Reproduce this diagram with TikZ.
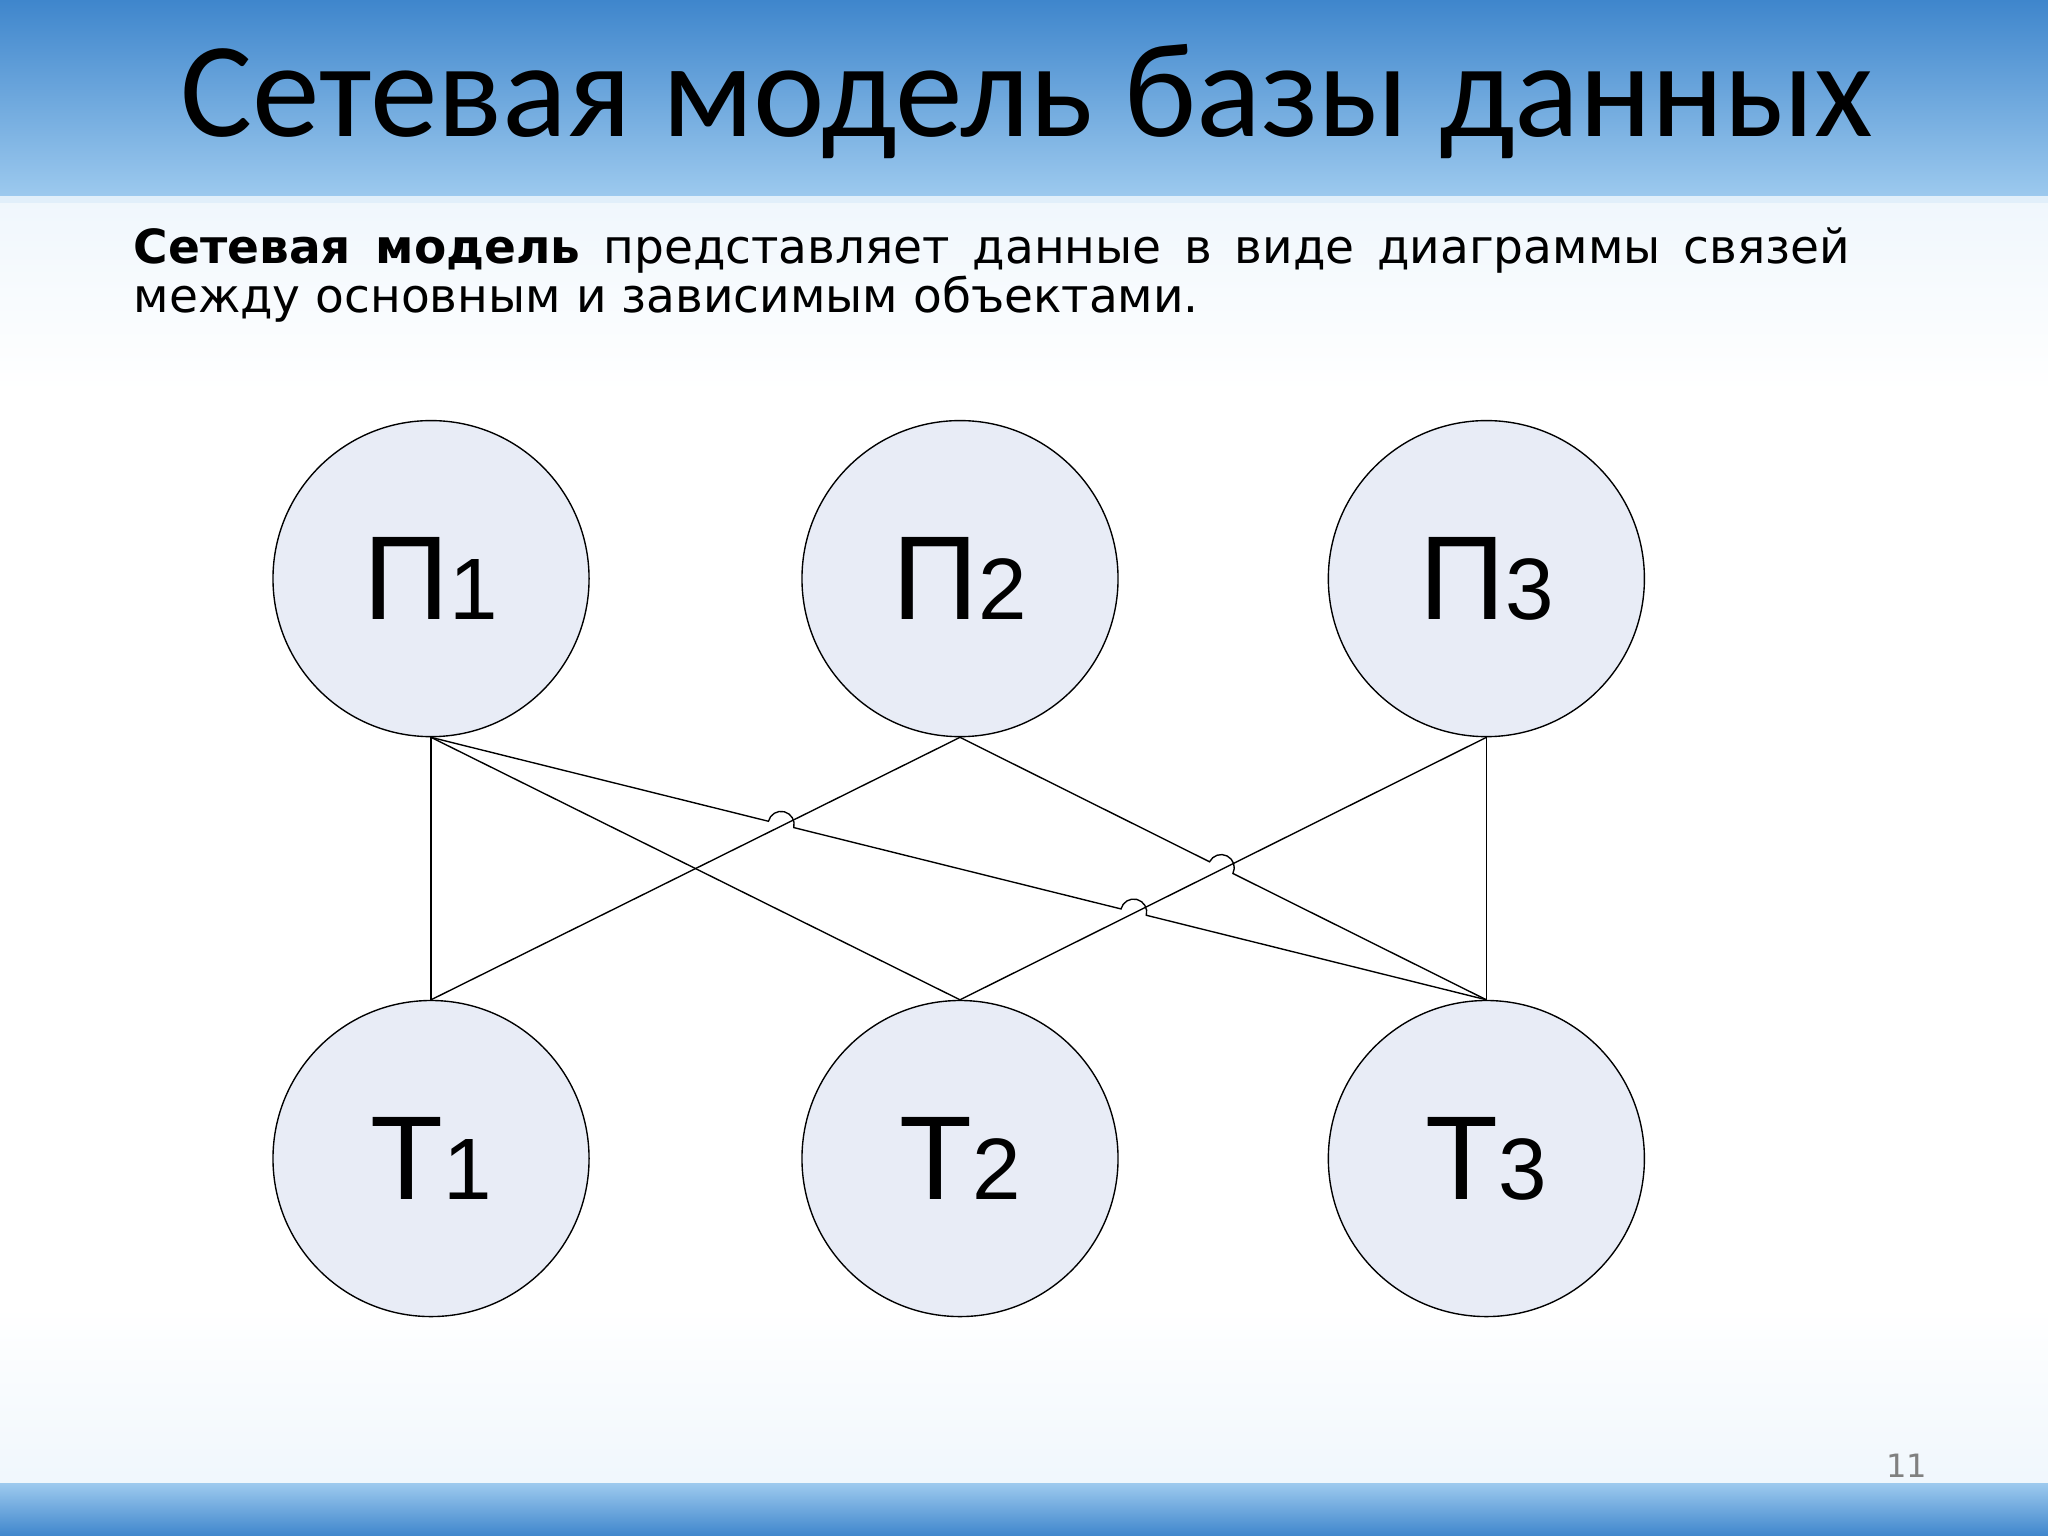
\documentclass[tikz,border=0pt]{standalone}
\usepackage{fontspec}
\setmainfont{DejaVu Sans}
\newfontfamily\titlefont{Carlito}
\newfontfamily\arialf{Liberation Sans}
\usetikzlibrary{calc}
\definecolor{bandblue}{HTML}{3F86CC}
\definecolor{lightblue}{HTML}{9CC9EE}
\definecolor{circfill}{HTML}{E8ECF6}
\tikzset{ent/.style={circle,draw=black,line width=0.6pt,fill=circfill,minimum size=242*0.02cm,inner sep=0pt,font=\arialf},
 lnk/.style={line width=0.6pt}}
\newcommand{\lbl}[2]{{\fontsize{52}{52}\selectfont #1}{\fontsize{38}{38}\selectfont #2}}
\begin{document}
\begin{tikzpicture}[x=0.02cm,y=0.02cm]
\useasboundingbox (0,0) rectangle (1568,-1176);
\shade[top color=bandblue,bottom color=lightblue] (0,0) rectangle (1568,-150);
\fill[white!70!lightblue] (0,-150) rectangle (1568,-156);
\shade[top color=white!85!lightblue,bottom color=white] (0,-156) rectangle (1568,-300);
\fill[white] (0,-300) rectangle (1568,-1000);
\shade[top color=white,bottom color=white!85!lightblue] (0,-1000) rectangle (1568,-1136);
\shade[top color=lightblue,bottom color=bandblue] (0,-1136) rectangle (1568,-1176);
\node[font=\titlefont\fontsize{59}{59}\selectfont] (title) at (786,-78) {Сетевая модель базы данных};
\node[anchor=north west,text width=1314*0.02cm,align=justify,inner sep=0pt,font=\fontsize{20.5}{21.5}\selectfont] (body) at (102,-174)
 {\textbf{Сетевая модель} представляет данные в виде диаграммы связей между основным и зависимым объектами.};
\node[font=\fontsize{14}{14}\selectfont,text=gray] (num) at (1460,-1122) {11};
\node[ent] (P1) at (330,-443) {\lbl{П}{1}};
\node[ent] (P2) at (735,-443) {\lbl{П}{2}};
\node[ent] (P3) at (1138,-443) {\lbl{П}{3}};
\node[ent] (T1) at (330,-887) {\lbl{Т}{1}};
\node[ent] (T2) at (735,-887) {\lbl{Т}{2}};
\node[ent] (T3) at (1138,-887) {\lbl{Т}{3}};
\draw[lnk] (P1.south) -- (T1.north);
\draw[lnk] (P1.south) -- (T2.north);
\draw[lnk] (P2.south) -- (T1.north);
\draw[lnk] (P3.south) -- (T2.north);
\draw[lnk] (P3.south) -- (T3.north);
\draw[lnk] (P1.south) -- ($(P1.south)!0.3197!(T3.north)$) arc[start angle=166,end angle=-14,radius=0.2cm]
 -- ($(P1.south)!0.6538!(T3.north)$) arc[start angle=166,end angle=-14,radius=0.2cm] -- (T3.north);
\draw[lnk] (P2.south) -- ($(P2.south)!0.4741!(T3.north)$) arc[start angle=153.4,end angle=-26.6,radius=0.2cm] -- (T3.north);
\end{tikzpicture}
\end{document}
